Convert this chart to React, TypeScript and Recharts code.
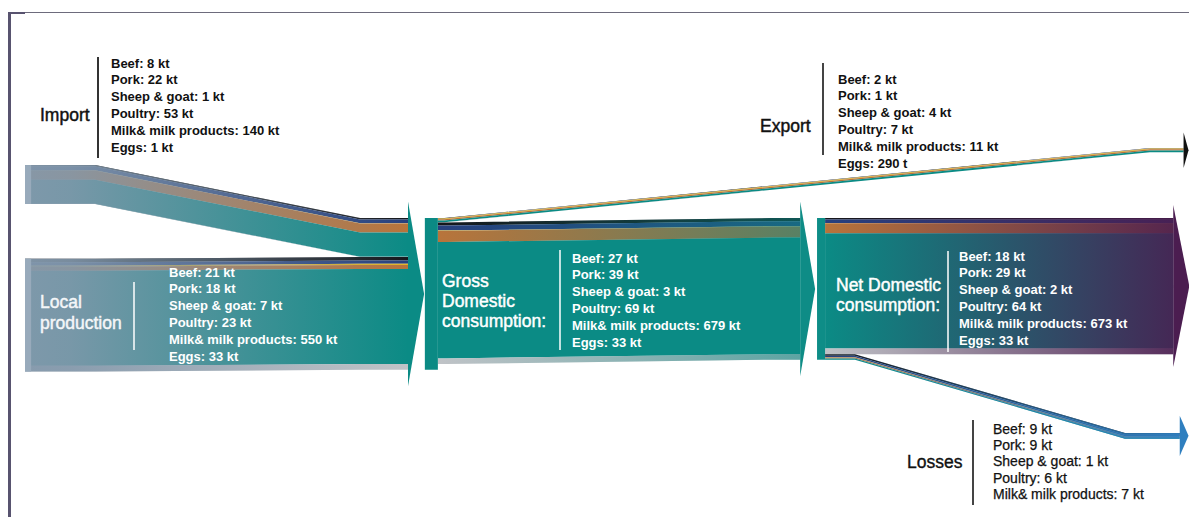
import { Area, ComposedChart, XAxis, YAxis } from "recharts"

const CATEGORIES = ["Beef", "Pork", "Sheep & goat", "Poultry", "Milk& milk products", "Eggs"]
const IMPORT = [8, 22, 1, 53, 140, 1]
const LOCAL = [21, 18, 7, 23, 550, 33]
const GROSS = [27, 39, 3, 69, 679, 33]
const EXPORT = [2, 1, 4, 7, 11, 0.29]
const NET = [18, 29, 2, 64, 673, 33]
const LOSSES = [9, 9, 1, 6, 7]

// beef, pork, sheep & goat, poultry, milk, eggs
const STRIPE_COLORS = ["#15171c", "#27407e", "#e3b526", "#b8743b", "#0b8b85", "#c0c3c7"]
const TEAL = "#0b8b85"

// x is in stage units (0 sources, 1 gross, 2 net, 3 outlets), y in kt measured down from the top of the gross node
const X_DOMAIN: [number, number] = [-0.0444, 3.0392]
const Y_DOMAIN: [number, number] = [-1214, 1728]

const sum = (a: number[]) => a.reduce((s, v) => s + v, 0)
const fmt = (v: number) => (v < 1 ? `${Math.round(v * 1000)} t` : `${v} kt`)
const lines = (vals: number[]) => vals.map((v, i) => `${CATEGORIES[i]}: ${fmt(v)}`)

const LOSS_PARTS = CATEGORIES.map((_, i) => LOSSES[i] ?? 0)
const NET_END = NET.map((v, i) => v - LOSS_PARTS[i])
const IMPORT_KT = sum(IMPORT)
const LOCAL_KT = sum(LOCAL)
const EXPORT_KT = sum(EXPORT)
const NET_KT = sum(NET)
const NET_END_KT = sum(NET_END)

type Flow = { id: string; parts: number[]; xs: number[]; from: number; to: number; grad?: string }

const FLOWS: Flow[] = [
  { id: "import", parts: IMPORT, xs: [0, 0.183, 0.875, 1.0], from: -306, to: 0, grad: "gSrc" },
  { id: "local", parts: LOCAL, xs: [0, 0.183, 0.875, 1.0], from: 235, to: IMPORT_KT, grad: "gSrc" },
  { id: "export", parts: EXPORT, xs: [1.078, 1.095, 2.937, 3.025], from: 0, to: -405 },
  { id: "grossNet", parts: NET, xs: [1.078, 1.1, 1.95, 2.024], from: EXPORT_KT, to: 0, grad: "gGN" },
  { id: "netEnd", parts: NET_END, xs: [2.089, 2.2, 2.9, 2.998], from: 0, to: 0, grad: "gNE" },
  { id: "losses", parts: LOSS_PARTS, xs: [2.089, 2.167, 2.872, 3.015], from: NET_END_KT, to: 1243, grad: "gLoss" },
]

const ARROWS = [
  { id: "aGross", base: 1.0, tip: 1.042, top: 0, size: IMPORT_KT + LOCAL_KT, ext: 95, color: TEAL },
  { id: "aNet", base: 2.024, tip: 2.063, top: 0, size: NET_KT, ext: 95, color: "#0e8c86" },
  { id: "aEnd", base: 2.998, tip: 3.04, top: 0, size: NET_END_KT, ext: 75, color: "#4b1d50" },
  { id: "aExport", base: 3.025, tip: 3.038, top: -405, size: EXPORT_KT, ext: 90, color: "#111" },
  { id: "aLoss", base: 3.015, tip: 3.038, top: 1243, size: sum(LOSS_PARTS), ext: 100, color: "#2f7fbf" },
]

const NODES = [
  { id: "nImport", x0: 0, x1: 0.016, top: -306, size: IMPORT_KT, color: "#98aabb" },
  { id: "nLocal", x0: 0, x1: 0.016, top: 235, size: LOCAL_KT, color: "#98aabb" },
  { id: "nGross", x0: 1.044, x1: 1.078, top: 0, size: IMPORT_KT + LOCAL_KT, color: "#0b8a84" },
  { id: "nNet", x0: 2.068, x1: 2.089, top: 0, size: NET_KT, color: "#0e8d87" },
]

function bandRows(xs: number[], from: number, to: number, a: number, b: number) {
  return [
    { x: xs[0], band: [from + a, from + b] },
    { x: xs[1], band: [from + a, from + b] },
    { x: xs[2], band: [to + a, to + b] },
    { x: xs[3], band: [to + a, to + b] },
  ]
}

function stripeSeries(f: Flow) {
  let acc = 0
  return f.parts.map((v, i) => {
    const a = acc
    acc += v
    return { key: `${f.id}-${i}`, color: STRIPE_COLORS[i], data: bandRows(f.xs, f.from, f.to, a, acc) }
  })
}

const FONT = '"Liberation Sans", Arial, sans-serif'

function Block({ left, top, items, color, bold = true, size = 13, lh = 16.8, stroke = 0 }: any) {
  return (
    <div
      style={{
        position: "absolute",
        left: left - 8,
        top: top - 8,
        color,
        fontFamily: FONT,
        fontSize: size,
        fontWeight: bold ? 700 : 400,
        lineHeight: `${lh}px`,
        whiteSpace: "nowrap",
        WebkitTextStroke: stroke ? `${stroke}px ${color}` : undefined,
      }}
    >
      {items.map((t: string) => (
        <div key={t}>{t}</div>
      ))}
    </div>
  )
}

function Divider({ x, y0, y1, color }: { x: number; y0: number; y1: number; color: string }) {
  return <div style={{ position: "absolute", left: x - 8, top: y0 - 8, width: 1.5, height: y1 - y0, background: color }} />
}

export default function App() {
  const stripes = FLOWS.flatMap(stripeSeries)
  return (
    <div style={{ position: "relative", width: 1181, height: 509, overflow: "hidden", fontFamily: FONT }}>
      <div style={{ position: "absolute", left: 0, top: 4, width: 3, height: 505, background: "#58536f" }} />
      <div style={{ position: "absolute", left: 0, top: 4, width: 1181, height: 1, background: "#6d6b7c" }} />
      <div style={{ position: "absolute", left: 0, top: 4, width: 17, height: 2, background: "#58536f" }} />
      <div style={{ position: "absolute", left: 0, top: 0 }}>
        <ComposedChart width={1181} height={509} margin={{ top: 0, right: 0, bottom: 0, left: 0 }}>
          <defs>
            <linearGradient id="gSrc" x1="0" y1="0" x2="1" y2="0">
              <stop offset="0" stopColor="#8499ac" stopOpacity={0.95} />
              <stop offset="0.12" stopColor="#8499ac" stopOpacity={0.9} />
              <stop offset="1" stopColor="#8499ac" stopOpacity={0} />
            </linearGradient>
            <linearGradient id="gGN" x1="0" y1="0" x2="1" y2="0">
              <stop offset="0" stopColor={TEAL} stopOpacity={0} />
              <stop offset="1" stopColor={TEAL} stopOpacity={0.55} />
            </linearGradient>
            <linearGradient id="gNE" x1="0" y1="0" x2="1" y2="0">
              <stop offset="0" stopColor="#4b1d50" stopOpacity={0} />
              <stop offset="1" stopColor="#4b1d50" stopOpacity={0.9} />
            </linearGradient>
            <linearGradient id="gLoss" x1="0" y1="0" x2="1" y2="0">
              <stop offset="0" stopColor="#2f80c0" stopOpacity={0} />
              <stop offset="1" stopColor="#2f80c0" stopOpacity={0.95} />
            </linearGradient>
          </defs>
          <XAxis type="number" dataKey="x" domain={X_DOMAIN} allowDataOverflow hide />
          <YAxis type="number" domain={Y_DOMAIN} allowDataOverflow reversed hide />
          {stripes.map((s) => (
            <Area key={s.key} data={s.data} dataKey="band" type="linear" fill={s.color} fillOpacity={1} stroke="none" isAnimationActive={false} />
          ))}
          {FLOWS.filter((f) => f.grad).map((f) => (
            <Area key={`ov-${f.id}`} data={bandRows(f.xs, f.from, f.to, 0, sum(f.parts))} dataKey="band" type="linear" fill={`url(#${f.grad})`} fillOpacity={1} stroke="none" isAnimationActive={false} />
          ))}
          {ARROWS.map((a) => (
            <Area
              key={a.id}
              data={[
                { x: a.base, band: [a.top - a.ext, a.top + a.size + a.ext] },
                { x: a.tip, band: [a.top + a.size / 2, a.top + a.size / 2] },
              ]}
              dataKey="band"
              type="linear"
              fill={a.color}
              fillOpacity={1}
              stroke="none"
              isAnimationActive={false}
            />
          ))}
          {NODES.map((n) => (
            <Area
              key={n.id}
              data={[
                { x: n.x0, band: [n.top, n.top + n.size] },
                { x: n.x1, band: [n.top, n.top + n.size] },
              ]}
              dataKey="band"
              type="linear"
              fill={n.color}
              fillOpacity={1}
              stroke="none"
              isAnimationActive={false}
            />
          ))}
        </ComposedChart>
      </div>

      <Block left={40} top={105} items={["Import"]} color="#111" bold={false} size={17.5} lh={20} stroke={0.45} />
      <Divider x={97} y0={57} y1={158} color="#333" />
      <Block left={111} top={55.6} items={lines(IMPORT)} color="#111" />

      <Block left={760} top={116} items={["Export"]} color="#111" bold={false} size={17.5} lh={20} stroke={0.45} />
      <Divider x={822} y0={63} y1={155} color="#444" />
      <Block left={838} top={71.6} items={lines(EXPORT)} color="#111" />

      <Block left={40} top={291.5} items={["Local", "production"]} color="#f4f6f8" bold={false} size={17.5} lh={21} stroke={0.45} />
      <Divider x={133} y0={282} y1={350} color="rgba(255,255,255,0.75)" />
      <Block left={169} top={264.6} items={lines(LOCAL)} color="#fff" />

      <Block left={442} top={271} items={["Gross", "Domestic", "consumption:"]} color="#fff" bold={false} size={17.5} lh={20} stroke={0.45} />
      <Divider x={559} y0={250} y1={350} color="rgba(255,255,255,0.75)" />
      <Block left={572} top={250.6} items={lines(GROSS)} color="#fff" />

      <Block left={836} top={275} items={["Net Domestic", "consumption:"]} color="#fff" bold={false} size={17.5} lh={20} stroke={0.45} />
      <Divider x={947} y0={251} y1={352} color="rgba(255,255,255,0.75)" />
      <Block left={959} top={248.6} items={lines(NET)} color="#fff" />

      <Block left={907} top={452} items={["Losses"]} color="#111" bold={false} size={17.5} lh={20} stroke={0.35} />
      <Divider x={972} y0={420} y1={505} color="#444" />
      <Block left={993} top={420.8} items={lines(LOSSES)} color="#111" bold={false} size={14} lh={16.3} stroke={0.25} />
    </div>
  )
}
